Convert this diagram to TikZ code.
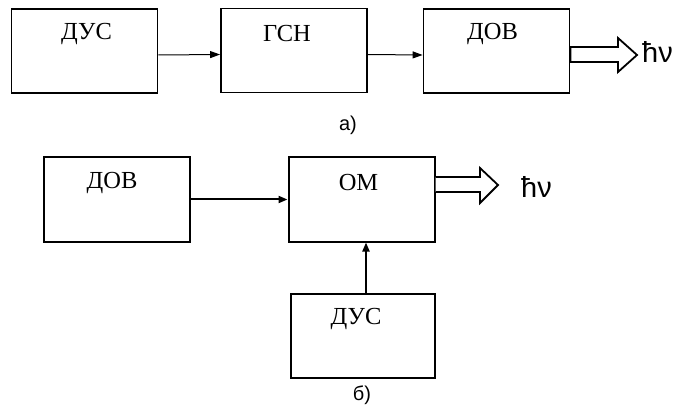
\documentclass[tikz,border=0pt]{standalone}
\usepackage{fontspec}
\setmainfont{Liberation Serif}
\newfontfamily\sansf{Liberation Sans}
\usetikzlibrary{arrows.meta}
\begin{document}
\begin{tikzpicture}[x=1pt,y=-1pt,
  blk/.style={draw,line width=1.8pt,minimum width=146pt,minimum height=84pt,inner sep=0pt},
  blkb/.style={blk,line width=2pt},
  ttl/.style={anchor=center,yshift=-26pt,font=\fontsize{24.5}{26}\selectfont},
  sig/.style={line width=1pt,-{Triangle[length=10pt,width=7pt]}},
  sigb/.style={line width=2pt,-{Triangle[length=9pt,width=7pt]}},
  hollow/.style={draw,line width=1.8pt,fill=white,line join=miter},
  hnu/.style={anchor=west,font=\sansf\fontsize{29}{31}\selectfont,inner sep=0pt},
  subcap/.style={font=\sansf\fontsize{20}{22}\selectfont,inner sep=0pt}]
\useasboundingbox (0,0) rectangle (686,409);
% ---- a)
\node[blk,label={[ttl,xshift=2pt]north:ДУС}] (b1) at (84.5,51) {};
\node[blk,label={[ttl,xshift=-7pt]north:ГСН}] (b2) at (294,50.5) {};
\node[blk,label={[ttl,xshift=-4pt]north:ДОВ}] (b3) at (496.5,51) {};
\draw[sig] ([yshift=-4pt]b1.east) -- ([yshift=-4pt]b2.west);
\draw[sig] ([yshift=-4pt]b2.east) -- ([yshift=-4pt]b3.west);
\draw[hollow] ([yshift=4pt]b3.east) -- (618,47) -- (618,38) -- (637,55) -- (618,72) -- (618,62) -- ([yshift=-11pt]b3.east) -- cycle;
\node[hnu] (h1) at (642,52) {ħν};
\node[subcap] (ca) at (348,125) {а)};
% ---- б)
\node[blkb,label={[ttl,xshift=-5pt]north:ДОВ}] (c1) at (117,199.5) {};
\node[blkb,label={[ttl,xshift=-3pt]north:ОМ}] (c2) at (361.5,199.5) {};
\node[blkb,minimum width=144pt,label={[ttl,xshift=-7pt]north:ДУС}] (c3) at (363,335.5) {};
\draw[sigb] (c1.east) -- (c2.west);
\draw[sigb] ([xshift=3pt]c3.north) -- ([xshift=4.5pt]c2.south);
\draw[hollow] ([yshift=22.5pt]c2.east) -- (480,177) -- (480,168) -- (498,185) -- (480,203) -- (480,192) -- ([yshift=7.5pt]c2.east);
\node[hnu] (h2) at (521,187) {ħν};
\node[subcap] (cb) at (362,395) {б)};
\end{tikzpicture}
\end{document}
